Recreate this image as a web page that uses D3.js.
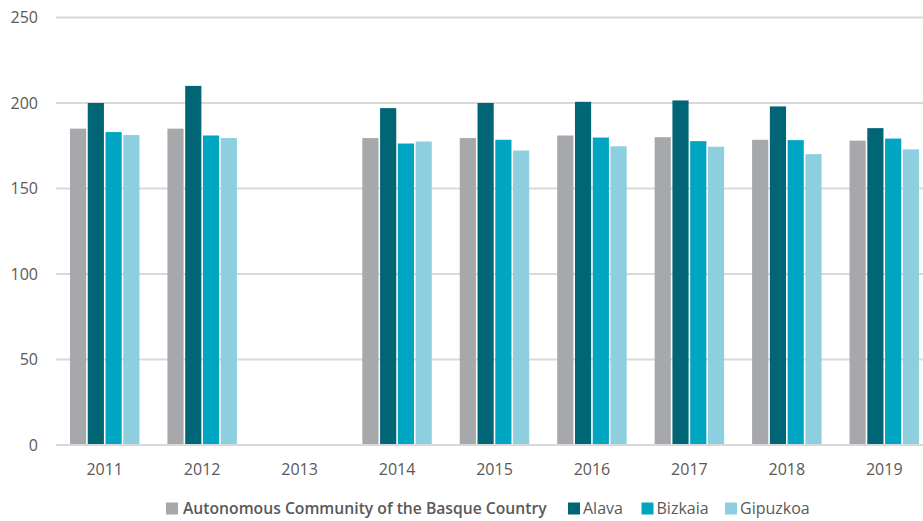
<!DOCTYPE html>
<html>
<head>
<meta charset="utf-8">
<script src="https://cdn.jsdelivr.net/npm/d3@7"></script>
<style>
  html, body { margin: 0; padding: 0; background: #fff; }
  svg { display: block; font-family: "Open Sans", "Noto Sans", sans-serif; }
</style>
</head>
<body>
<svg id="chart" width="923" height="521"></svg>
<script>
const years = ["2011", "2012", "2013", "2014", "2015", "2016", "2017", "2018", "2019"];
const seriesNames = ["Autonomous Community of the Basque Country", "Alava", "Bizkaia", "Gipuzkoa"];
const basque   = [185, 185, null, 179.5, 179.5, 181, 180, 178.5, 178];
const alava    = [200, 210, null, 197, 200, 200.7, 201.5, 198, 185.3];
const bizkaia  = [183, 181, null, 176.3, 178.5, 179.8, 177.7, 178.3, 179.2];
const gipuzkoa = [181.3, 179.5, null, 177.5, 172.2, 174.7, 174.4, 170.1, 172.9];
const yTicks = [0, 50, 100, 150, 200, 250];
const colors = ["#a6a8ab", "#006675", "#00a5c2", "#8dcfde"];

const seriesValues = [basque, alava, bizkaia, gipuzkoa];
const svg = d3.select("#chart");

const x = d3.scaleBand().domain(years).range([56, 933]).paddingInner(0.287).paddingOuter(0.1435);
const xs = d3.scaleBand().domain(d3.range(seriesNames.length)).range([0, x.bandwidth()]).paddingInner(0.09).paddingOuter(0);
const y = d3.scaleLinear().domain([0, 250]).range([445, 17.5]);

// gridlines
svg.append("g").selectAll("line").data(yTicks).join("line")
  .attr("x1", 56).attr("x2", 923)
  .attr("y1", d => y(d)).attr("y2", d => y(d))
  .attr("stroke", "#d9d9d9").attr("stroke-width", 2);

// y labels
svg.append("g").selectAll("text").data(yTicks).join("text")
  .attr("x", 38).attr("y", d => y(d)).attr("dy", "0.36em")
  .attr("text-anchor", "end").attr("font-size", 16).attr("fill", "#595959")
  .text(d => d);

// bars
const groups = svg.append("g").selectAll("g").data(years).join("g")
  .attr("transform", d => `translate(${x(d)},0)`);
groups.selectAll("rect")
  .data((yr, i) => seriesValues.map((arr, s) => ({ s, v: arr[i] })).filter(d => d.v != null))
  .join("rect")
  .attr("x", d => xs(d.s))
  .attr("width", xs.bandwidth())
  .attr("y", d => y(d.v))
  .attr("height", d => y(0) - 1 - y(d.v))
  .attr("fill", d => colors[d.s]);

// x labels
svg.append("g").selectAll("text").data(years).join("text")
  .attr("x", d => x(d) + x.bandwidth() / 2).attr("y", 469).attr("dy", "0.36em")
  .attr("text-anchor", "middle").attr("font-size", 16).attr("fill", "#595959")
  .text(d => d);

// legend
const legendPos = [166, 568, 641.5, 725];
const leg = svg.append("g").selectAll("g").data(seriesNames).join("g")
  .attr("transform", (d, i) => `translate(${legendPos[i]},502.5)`);
leg.append("rect").attr("width", 12).attr("height", 12).attr("fill", (d, i) => colors[i]);
leg.append("text").attr("x", (d, i) => i === 0 ? 17 : 15).attr("y", 6).attr("dy", "0.36em")
  .attr("font-size", (d, i) => i === 0 ? 15.7 : 16).attr("fill", "#595959")
  .attr("font-weight", (d, i) => i === 0 ? 600 : 400)
  .text(d => d);
</script>
</body>
</html>
